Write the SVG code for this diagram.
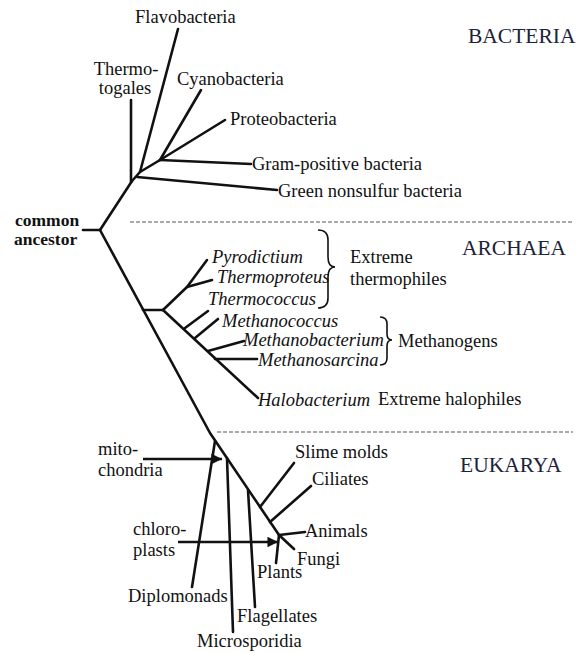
<svg xmlns="http://www.w3.org/2000/svg" width="578" height="653" viewBox="0 0 578 653">
<style>
text{font-family:'Liberation Serif','DejaVu Serif',serif;font-size:18.5px;fill:#111}
.it{font-style:italic}
.dom{font-size:21.5px;fill:#1c2238}
.anc{font-weight:bold;font-size:17.5px}
.br{stroke:#111;stroke-width:2.6;fill:none;stroke-linecap:round;stroke-linejoin:round}
.dash{stroke:#555;stroke-width:1.2;stroke-dasharray:4 2;fill:none}
.brace{stroke:#111;stroke-width:1.6;fill:none}
.arr{stroke:#111;stroke-width:2.4;fill:none}
</style>
<defs>
<marker id="ah" viewBox="0 0 10 10" refX="10" refY="5" markerWidth="6" markerHeight="4.4" orient="auto" markerUnits="strokeWidth">
<path d="M0,0 L10,5 L0,10 Z" fill="#111"/>
</marker>
</defs>
<rect width="578" height="653" fill="#fff"/>

<g id="connectors">
<path class="br" d="M83,230 L100,230"/>
<path class="br" d="M100,230 L132,181"/>
<path class="br" d="M100,230 L210,433 L279,535 L294,549"/>
<path class="br" d="M131,100 L131,182"/>
<path class="br" d="M178,29 L140,172 L132,181"/>
<path class="br" d="M140,172 L160,160"/>
<path class="br" d="M160,160 L201,90"/>
<path class="br" d="M160,160 L225,120"/>
<path class="br" d="M160,160 L251,164"/>
<path class="br" d="M137,177 L277,190"/>
<path class="br" d="M143,310 L163,310"/>
<path class="br" d="M163,310 L187,287 L207,260"/>
<path class="br" d="M187,287 L212,280"/>
<path class="br" d="M185,328 L208,311"/>
<path class="br" d="M195,338 L218,319"/>
<path class="br" d="M208,351 L244,341"/>
<path class="br" d="M215,359 L257,359"/>
<path class="br" d="M163,310 L258,398"/>
<path class="br" d="M192,587 L215,441"/>
<path class="br" d="M227,458 L233,632"/>
<path class="br" d="M248,490 L255,607"/>
<path class="br" d="M260,507 L294,463"/>
<path class="br" d="M270,522 L311,486"/>
<path class="br" d="M279,535 L305,532"/>
<path class="br" d="M279,535 L276,563"/>
<path class="arr" d="M143,459 L222,459" marker-end="url(#ah)"/>
<path class="arr" d="M178,542 L278,542" marker-end="url(#ah)"/>
<path class="dash" d="M130,222 L572,222"/>
<path class="dash" d="M217,432 L573,432"/>
<path class="brace" d="M318,230 Q328,230 328,240 L328,257 Q328,267 335,267 Q328,267 328,277 L328,298 Q328,308 318,308"/>
<path class="brace" d="M380,317 Q387,317 387,324 L387,334 Q387,340 392,340 Q387,340 387,346 L387,358 Q387,365 380,365"/>
</g>

<g id="domains">
<text class="dom" x="468" y="43">BACTERIA</text>
<text class="dom" x="462" y="255">ARCHAEA</text>
<text class="dom" x="460" y="472">EUKARYA</text>
</g>

<g id="common-ancestor">
<text class="anc" x="15" y="226">common</text>
<text class="anc" x="14" y="245">ancestor</text>
</g>

<g id="bacteria">
<g id="flavobacteria"><text x="135" y="23">Flavobacteria</text></g>
<g id="thermotogales"><text x="126" y="75" text-anchor="middle">Thermo-</text><text x="125" y="94" text-anchor="middle">togales</text></g>
<g id="cyanobacteria"><text x="177" y="85">Cyanobacteria</text></g>
<g id="proteobacteria"><text x="230" y="125">Proteobacteria</text></g>
<g id="gram-positive"><text x="252" y="170">Gram-positive bacteria</text></g>
<g id="green-nonsulfur"><text x="278" y="197">Green nonsulfur bacteria</text></g>
</g>

<g id="archaea">
<g id="pyrodictium"><text class="it" x="212" y="263">Pyrodictium</text></g>
<g id="thermoproteus"><text class="it" x="217" y="283">Thermoproteus</text></g>
<g id="thermococcus"><text class="it" x="208" y="305">Thermococcus</text></g>
<g id="methanococcus"><text class="it" x="222" y="327">Methanococcus</text></g>
<g id="methanobacterium"><text class="it" x="243" y="346">Methanobacterium</text></g>
<g id="methanosarcina"><text class="it" x="258" y="366">Methanosarcina</text></g>
<g id="halobacterium"><text class="it" x="258" y="406">Halobacterium</text></g>
<g id="extreme-thermophiles"><text x="350" y="263">Extreme</text><text x="350" y="285">thermophiles</text></g>
<g id="methanogens"><text x="398" y="347">Methanogens</text></g>
<g id="extreme-halophiles"><text x="378" y="405">Extreme halophiles</text></g>
</g>

<g id="eukarya">
<g id="mitochondria"><text x="98" y="455">mito-</text><text x="98" y="476">chondria</text></g>
<g id="slime-molds"><text x="295" y="458">Slime molds</text></g>
<g id="ciliates"><text x="312" y="485">Ciliates</text></g>
<g id="animals"><text x="305" y="537">Animals</text></g>
<g id="chloroplasts"><text x="133" y="535">chloro-</text><text x="133" y="556">plasts</text></g>
<g id="fungi"><text x="297" y="565">Fungi</text></g>
<g id="plants"><text x="257" y="578">Plants</text></g>
<g id="diplomonads"><text x="128" y="602">Diplomonads</text></g>
<g id="flagellates"><text x="237" y="622">Flagellates</text></g>
<g id="microsporidia"><text x="197" y="647">Microsporidia</text></g>
</g>
</svg>
